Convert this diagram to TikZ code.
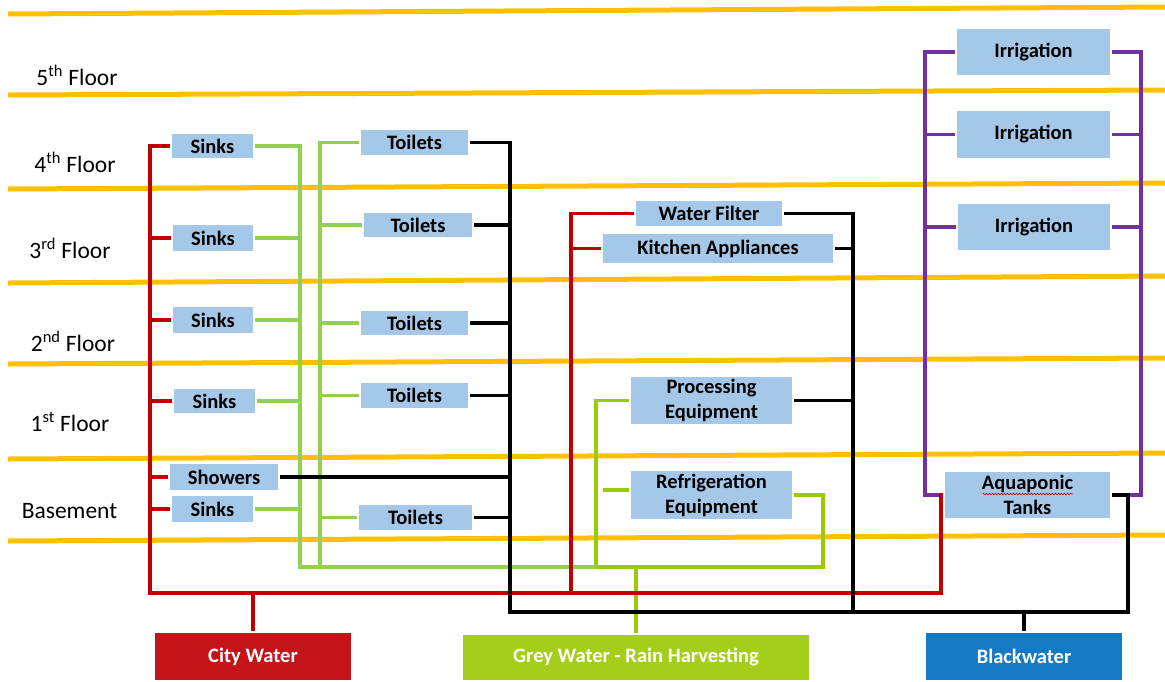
\documentclass[tikz,border=0pt]{standalone}
\usepackage{fontspec}
\setmainfont{Carlito}
\usepackage{tikz}
\usetikzlibrary{calc, decorations.pathmorphing}
\definecolor{floorYellow}{RGB}{255,192,0}
\definecolor{boxBlue}{RGB}{166,200,232}
\definecolor{pipeRed}{RGB}{192,0,0}
\definecolor{pipeGreen}{RGB}{146,208,80}
\definecolor{pipeLime}{RGB}{153,204,0}
\definecolor{pipePurple}{RGB}{112,48,160}
\definecolor{cityBox}{RGB}{196,20,24}
\definecolor{greyBox}{RGB}{164,206,26}
\definecolor{blackBox}{RGB}{20,122,196}

\begin{document}
\begin{tikzpicture}[x=1pt, y=-1pt, every node/.style={fill=boxBlue, inner sep=0pt, align=center, font=\fontsize{20.5}{25}\selectfont\bfseries}, every path/.style={line width=3.6pt},
		fixture/.style 2 args={minimum width=#1pt, minimum height=#2pt},
		source/.style={text=white},
		floorlbl/.style={fill=none, font=\fontsize{23.5}{28}\selectfont},
		redpipe/.style={draw=pipeRed}, greenpipe/.style={draw=pipeGreen}, limepipe/.style={draw=pipeLime},
		blackpipe/.style={draw=black}, purplepipe/.style={draw=pipePurple}]
			\useasboundingbox (0,0) rectangle (1165,681);
			\foreach \yl/\yr in {14/7, 95/90, 189/183, 283/276, 364/358, 459/453, 541/535}
				\draw[floorYellow, line width=5pt] (8,\yl) -- (1165,\yr);

			\node[floorlbl] (f5) at (77,75) {5\textsuperscript{th} Floor};
			\node[floorlbl] (f4) at (75,162) {4\textsuperscript{th} Floor};
			\node[floorlbl] (f3) at (70,248) {3\textsuperscript{rd} Floor};
			\node[floorlbl] (f2) at (73,341) {2\textsuperscript{nd} Floor};
			\node[floorlbl] (f1) at (70,422) {1\textsuperscript{st} Floor};
			\node[floorlbl] (f0) at (69.5,511) {Basement};

			\node[fixture={81}{24}] (sink4) at (212.5,146) {Sinks};
			\node[fixture={80}{26}] (sink3) at (213,238) {Sinks};
			\node[fixture={80}{26}] (sink2) at (213,320) {Sinks};
			\node[fixture={81}{24}] (sink1) at (214.5,401) {Sinks};
			\node[fixture={108}{26}] (showers) at (224,477) {Showers};
			\node[fixture={81}{26}] (sink0) at (212.5,509) {Sinks};
			\node[fixture={107}{25}] (toilet4) at (414.5,142.5) {Toilets};
			\node[fixture={108}{24}] (toilet3) at (418,225) {Toilets};
			\node[fixture={107}{24}] (toilet2) at (414.5,323) {Toilets};
			\node[fixture={107}{25}] (toilet1) at (414.5,395.5) {Toilets};
			\node[fixture={113}{25}] (toilet0) at (415.5,517.5) {Toilets};
			\node[fixture={146}{25}] (filter) at (709,213.5) {Water Filter};
			\node[fixture={230}{29}] (kitchen) at (718,248.5) {Kitchen Appliances};
			\node[fixture={161}{47}] (proc) at (711.5,400.5) {Processing\\Equipment};
			\node[fixture={161}{48}] (refrig) at (711.5,495) {Refrigeration\\Equipment};
			\node[fixture={153}{46}] (irr1) at (1033.5,52) {Irrigation};
			\node[fixture={153}{47}] (irr2) at (1033.5,134.5) {Irrigation};
			\node[fixture={152}{46}] (irr3) at (1034,227) {Irrigation};
			\node[fixture={165}{46}] (aqua) at (1027.5,495) {Aquaponic\\Tanks};
			\node[fixture={196}{47}, source, fill=cityBox] (city) at (253,656.5) {City Water};
			\node[fixture={346}{45}, source, fill=greyBox] (grey) at (636,657.5) {Grey Water - Rain Harvesting};
			\node[fixture={196}{47}, source, fill=blackBox] (black) at (1024,656.5) {Blackwater};
			\draw[pipeRed, line width=0.6pt, decorate, decoration={snake, amplitude=0.8pt, segment length=3pt}] ($(aqua.center)+(-45,-1)$) -- ++(90,0);

			\coordinate (rA) at (150,593);
			\coordinate (rB) at (941,593);
			\coordinate (rC) at (571,593);
			\coordinate (kA) at (510,612);
			\coordinate (kB) at (1128,612);
			\coordinate (kC) at (853,612);
			\coordinate (gA) at (300,567);
			\coordinate (gB) at (320,567);
			\coordinate (gC) at (596,567);
			\coordinate (gD) at (823,567);
			\coordinate (gE) at (603,490);
			\coordinate (pA) at (925,495);
			\coordinate (pB) at (1141,495);

			\draw[purplepipe] (irr1.west) -| (pA) -- (rB |- pA);
			\draw[purplepipe] (irr1.east) -| (pB) -- (kB |- pB);
			\foreach \n in {irr2, irr3} {
				\draw[purplepipe] (\n.west) -- (\n.west -| pA);
				\draw[purplepipe] (\n.east) -- (\n.east -| pB);
			}

			\draw[greenpipe] (sink4.east) -| (gA) -- (gC);
			\draw[greenpipe] (toilet4.west) -| (gB);
			\foreach \n in {sink3, sink2, sink1, sink0}
				\draw[greenpipe] (\n.east) -- (\n.east -| gA);
			\foreach \n in {toilet3, toilet2, toilet1, toilet0}
				\draw[greenpipe] (\n.west) -- (\n.west -| gB);
			\draw[limepipe] (gC) -- (gD) |- (refrig.east);
			\draw[limepipe] (proc.west) -| (gC);
			\draw[limepipe] (refrig.west |- gE) -- (gE);
			\draw[limepipe] (grey.north) -- (grey.north |- gA);

			\draw[redpipe] (sink4.west) -| (rA) -- (rB) |- (aqua.west);
			\foreach \n in {sink3, sink2, sink1, showers, sink0}
				\draw[redpipe] (\n.west) -- (\n.west -| rA);
			\draw[redpipe] (filter.west) -| (rC);
			\draw[redpipe] (kitchen.west) -- (kitchen.west -| rC);
			\draw[redpipe] (city.north) -- (city.north |- rA);

			\draw[blackpipe] (toilet4.east) -| (kA) -- (kB) |- (aqua.east);
			\foreach \n in {toilet3, toilet2, toilet1, toilet0, showers}
				\draw[blackpipe] (\n.east) -- (\n.east -| kA);
			\draw[blackpipe] (filter.east) -| (kC);
			\foreach \n in {kitchen, proc}
				\draw[blackpipe] (\n.east) -- (\n.east -| kC);
			\draw[blackpipe] (black.north) -- (black.north |- kA);
		\end{tikzpicture}
\end{document}
